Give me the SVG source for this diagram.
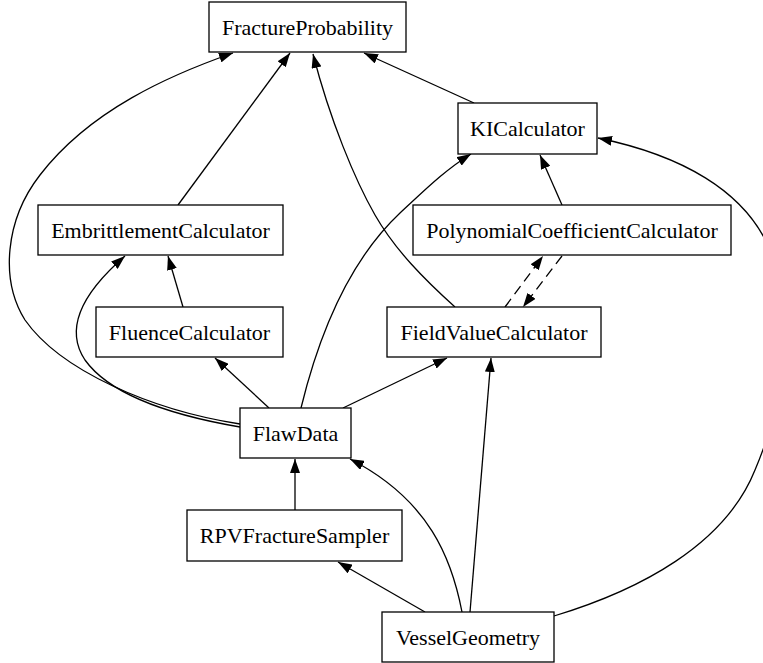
<svg xmlns="http://www.w3.org/2000/svg" width="763" height="663" viewBox="0 0 763 663">
<style>
.node rect{fill:#fff;stroke:#000;stroke-width:1.3}
.node text{font-family:"Liberation Serif","Times New Roman",serif;font-size:22px;fill:#000;text-anchor:middle}
.edge{fill:none;stroke:#000;stroke-width:1.3;marker-end:url(#arr)}
.dash{stroke-dasharray:10,6}
</style>
<defs>
<marker id="arr" markerUnits="userSpaceOnUse" markerWidth="14" markerHeight="10" refX="14" refY="5" orient="auto">
<path d="M0,0 L14,5 L0,10 z" fill="#000" stroke="none"/>
</marker>
</defs>
<rect width="763" height="663" fill="#fff"/>
<g id="connectors">
<path class="edge" d="M474,103 L364,53"/>
<path class="edge" d="M178,205 L290,53"/>
<path class="edge" d="M455,307 C425,280 395,250 375,215 C355,180 330,120 313,54"/>
<path class="edge" d="M240,424 C150,410 60,370 25,320 C0,280 5,220 40,175 C90,110 170,75 233,53"/>
<path class="edge" d="M183,307 L168,256"/>
<path class="edge" d="M240,427 C170,415 110,395 85,360 C65,330 80,295 125,256"/>
<path class="edge" d="M269,408 L215,358"/>
<path class="edge" d="M301,408 C320,330 350,260 400,213 C425,190 445,170 471,154"/>
<path class="edge" d="M343,408 L447,358"/>
<path class="edge" d="M295,510 L295,459"/>
<path class="edge" d="M425,612 L338,562"/>
<path class="edge" d="M462,612 C452,560 430,500 350,459"/>
<path class="edge" d="M470,612 L491,358"/>
<path class="edge" d="M554,616 C640,590 725,545 755,470 C785,400 795,310 770,250 C745,190 680,155 598,138"/>
<path class="edge" d="M562,205 L540,155"/>
<path class="edge dash" d="M505,307 L543,256"/>
<path class="edge dash" d="M562,256 L523,307"/>
</g>
<g id="FractureProbability" class="node"><rect x="209" y="2" width="197" height="50"/><text x="307.5" y="34.5">FractureProbability</text></g>
<g id="KICalculator" class="node"><rect x="458" y="103" width="139" height="51"/><text x="527.5" y="136">KICalculator</text></g>
<g id="EmbrittlementCalculator" class="node"><rect x="38" y="205" width="245" height="50"/><text x="160.5" y="237.5">EmbrittlementCalculator</text></g>
<g id="PolynomialCoefficientCalculator" class="node"><rect x="413" y="205" width="318" height="50"/><text x="572" y="237.5">PolynomialCoefficientCalculator</text></g>
<g id="FluenceCalculator" class="node"><rect x="96" y="307" width="187" height="50"/><text x="189.5" y="339.5">FluenceCalculator</text></g>
<g id="FieldValueCalculator" class="node"><rect x="387" y="307" width="214" height="50"/><text x="494" y="339.5">FieldValueCalculator</text></g>
<g id="FlawData" class="node"><rect x="240" y="408" width="111" height="50"/><text x="295.5" y="440.5">FlawData</text></g>
<g id="RPVFractureSampler" class="node"><rect x="187" y="510" width="215" height="51"/><text x="294.5" y="543">RPVFractureSampler</text></g>
<g id="VesselGeometry" class="node"><rect x="382" y="612" width="172" height="50"/><text x="468" y="644.5">VesselGeometry</text></g>
</svg>
